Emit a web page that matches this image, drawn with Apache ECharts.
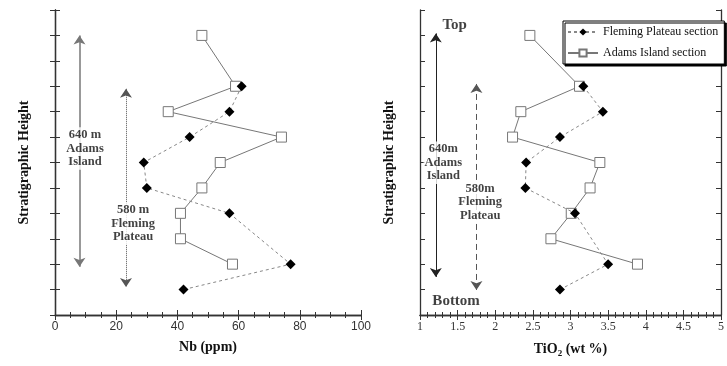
<!DOCTYPE html>
<html>
<head>
<meta charset="utf-8">
<script src="https://cdn.jsdelivr.net/npm/echarts@6/dist/echarts.min.js"></script>
<style>
  html, body { margin: 0; padding: 0; background: #fff; }
  #chart { width: 727px; height: 366px; }
</style>
</head>
<body>
<div id="chart"></div>
<script>
  // stratigraphic levels (1 = bottom, 11 = top)
  const flemingLevel = [9, 8, 7, 6, 5, 4, 2, 1];
  const flemingNb = [61, 57, 44, 29, 30, 57, 77, 42];
  const flemingTiO2 = [3.17, 3.43, 2.86, 2.41, 2.40, 3.06, 3.50, 2.86];

  const adamsLevel = [11, 9, 8, 7, 6, 5, 4, 3, 2];
  const adamsNb = [48, 59, 37, 74, 54, 48, 41, 41, 58];
  const adamsTiO2 = [2.46, 3.12, 2.34, 2.23, 3.39, 3.26, 3.01, 2.74, 3.89];

  const serif = 'Liberation Serif';
  const sans = 'Liberation Sans';
  const axisColor = '#333';

  function pairs(xs, ys) {
    return xs.map((x, i) => [x, ys[i]]);
  }

  // ticks drawn towards the plot: negative length flips them inward
  function xAxes(gridIndex, min, max, interval, minorSplit, fontFamily, name) {
    let common = {
      gridIndex: gridIndex, type: 'value', min: min, max: max, interval: interval,
      axisLine: { show: true, lineStyle: { color: axisColor, width: 1.3 } },
      axisTick: { show: true, length: -5, lineStyle: { color: axisColor } },
      minorTick: { show: true, splitNumber: minorSplit, length: -3, lineStyle: { color: axisColor } },
      splitLine: { show: false }
    };
    return [
      Object.assign({}, common, {
        position: 'bottom',
        axisLabel: { show: true, margin: 6, color: '#333', fontSize: 12, fontFamily: fontFamily },
        name: name, nameLocation: 'middle', nameGap: 25,
        nameTextStyle: {
          fontFamily: serif, fontWeight: 'bold', fontSize: 14, color: '#111',
          rich: {
            a: { fontFamily: serif, fontWeight: 'bold', fontSize: 14, lineHeight: 18, color: '#111' },
            s: { fontFamily: serif, fontWeight: 'bold', fontSize: 9, lineHeight: 9, verticalAlign: 'bottom', color: '#111' }
          }
        }
      }),
      Object.assign({}, common, { position: 'top', axisLabel: { show: false } })
    ];
  }

  function yAxes(gridIndex) {
    let common = {
      gridIndex: gridIndex, type: 'value', min: 0, max: 12, interval: 1,
      axisLine: { show: true, lineStyle: { color: axisColor, width: 1.3 } },
      axisTick: { show: true, length: -5, lineStyle: { color: axisColor } },
      axisLabel: { show: false },
      splitLine: { show: false }
    };
    return [
      Object.assign({}, common, {
        position: 'left',
        name: 'Stratigraphic Height', nameLocation: 'middle', nameRotate: 90, nameGap: 24,
        nameTextStyle: { fontFamily: serif, fontWeight: 'bold', fontSize: 14, color: '#111' }
      }),
      Object.assign({}, common, { position: 'right' })
    ];
  }

  function dataSeries(xi, yi, flemingX, adamsX) {
    return [
      {
        name: 'Adams Island section', type: 'line', xAxisIndex: xi, yAxisIndex: yi,
        data: pairs(adamsX, adamsLevel),
        symbol: 'rect', symbolSize: 10,
        itemStyle: { color: '#fff', borderColor: '#777', borderWidth: 1 },
        lineStyle: { color: '#777', width: 1 },
        z: 3
      },
      {
        name: 'Fleming Plateau section', type: 'line', xAxisIndex: xi, yAxisIndex: yi,
        data: pairs(flemingX, flemingLevel),
        symbol: 'diamond', symbolSize: 10,
        itemStyle: { color: '#000' },
        lineStyle: { color: '#888', width: 1, type: [3, 3] },
        z: 4
      }
    ];
  }

  function arrow(xi, yi, x, y1, y2, color, width, type) {
    return {
      type: 'lines', coordinateSystem: 'cartesian2d', xAxisIndex: xi, yAxisIndex: yi,
      symbol: ['arrow', 'arrow'], symbolSize: 9, silent: true,
      lineStyle: { color: color, width: width, type: type, opacity: 1 },
      data: [{ coords: [[x, y1], [x, y2]] }],
      z: 1
    };
  }

  function textMarks(xi, yi, items, fontSize, bg) {
    return {
      type: 'scatter', xAxisIndex: xi, yAxisIndex: yi, symbolSize: 1, silent: true,
      itemStyle: { color: 'rgba(0,0,0,0)' },
      label: {
        show: true, position: 'inside', formatter: p => p.data.text,
        fontFamily: serif, fontWeight: 'bold', fontSize: fontSize, lineHeight: fontSize + 1,
        color: '#111', backgroundColor: bg, padding: [1, 1]
      },
      data: items.map(d => ({ value: [d[0], d[1]], text: d[2] })),
      z: 2
    };
  }

  let chart = echarts.init(document.getElementById('chart'));

  let option = {
    backgroundColor: '#fff',
    animation: false,
    grid: [
      { left: 55, top: 10, width: 306, height: 305 },
      { left: 420, top: 10, width: 306, height: 305 }
    ],
    xAxis: [].concat(
      xAxes(0, 0, 100, 20, 4, sans, 'Nb (ppm)'),
      xAxes(1, 1, 5, 0.5, 5, serif, '{a|TiO}{s|2}{a| (wt %)}')
    ),
    yAxis: [].concat(yAxes(0), yAxes(1)),
    legend: {
      data: ['Fleming Plateau section', 'Adams Island section'],
      orient: 'vertical', left: 563, top: 21,
      padding: [5, 6, 5, 4], itemGap: 9, itemWidth: 30, itemHeight: 9,
      backgroundColor: '#fff', borderColor: '#000', borderWidth: 1,
      shadowColor: '#000', shadowOffsetX: 2, shadowOffsetY: 2, shadowBlur: 0,
      textStyle: { fontFamily: serif, fontSize: 12, color: '#111' }
    },
    series: [].concat(
      dataSeries(0, 0, flemingNb, adamsNb),
      dataSeries(2, 2, flemingTiO2, adamsTiO2),
      [
        arrow(0, 0, 8, 11, 1.9, '#777', 1.5, 'solid'),
        arrow(0, 0, 23.2, 8.9, 1.1, '#555', 1, 'dotted'),
        arrow(2, 2, 1.21, 11.08, 1.5, '#222', 1, 'solid'),
        arrow(2, 2, 1.75, 9.09, 0.98, '#555', 1, [6, 4]),
        textMarks(0, 0, [
          [9.8, 6.55, '640 m\nAdams\nIsland'],
          [25.5, 3.6, '580 m\nFleming\nPlateau']
        ], 12.5, '#fff'),
        textMarks(2, 2, [
          [1.31, 5.99, '640m\nAdams\nIsland'],
          [1.80, 4.45, '580m\nFleming\nPlateau']
        ], 12.5, '#fff'),
        textMarks(2, 2, [
          [1.46, 11.4, 'Top'],
          [1.48, 0.55, 'Bottom']
        ], 15, 'transparent')
      ]
    )
  };

  chart.setOption(option);
</script>
</body>
</html>
